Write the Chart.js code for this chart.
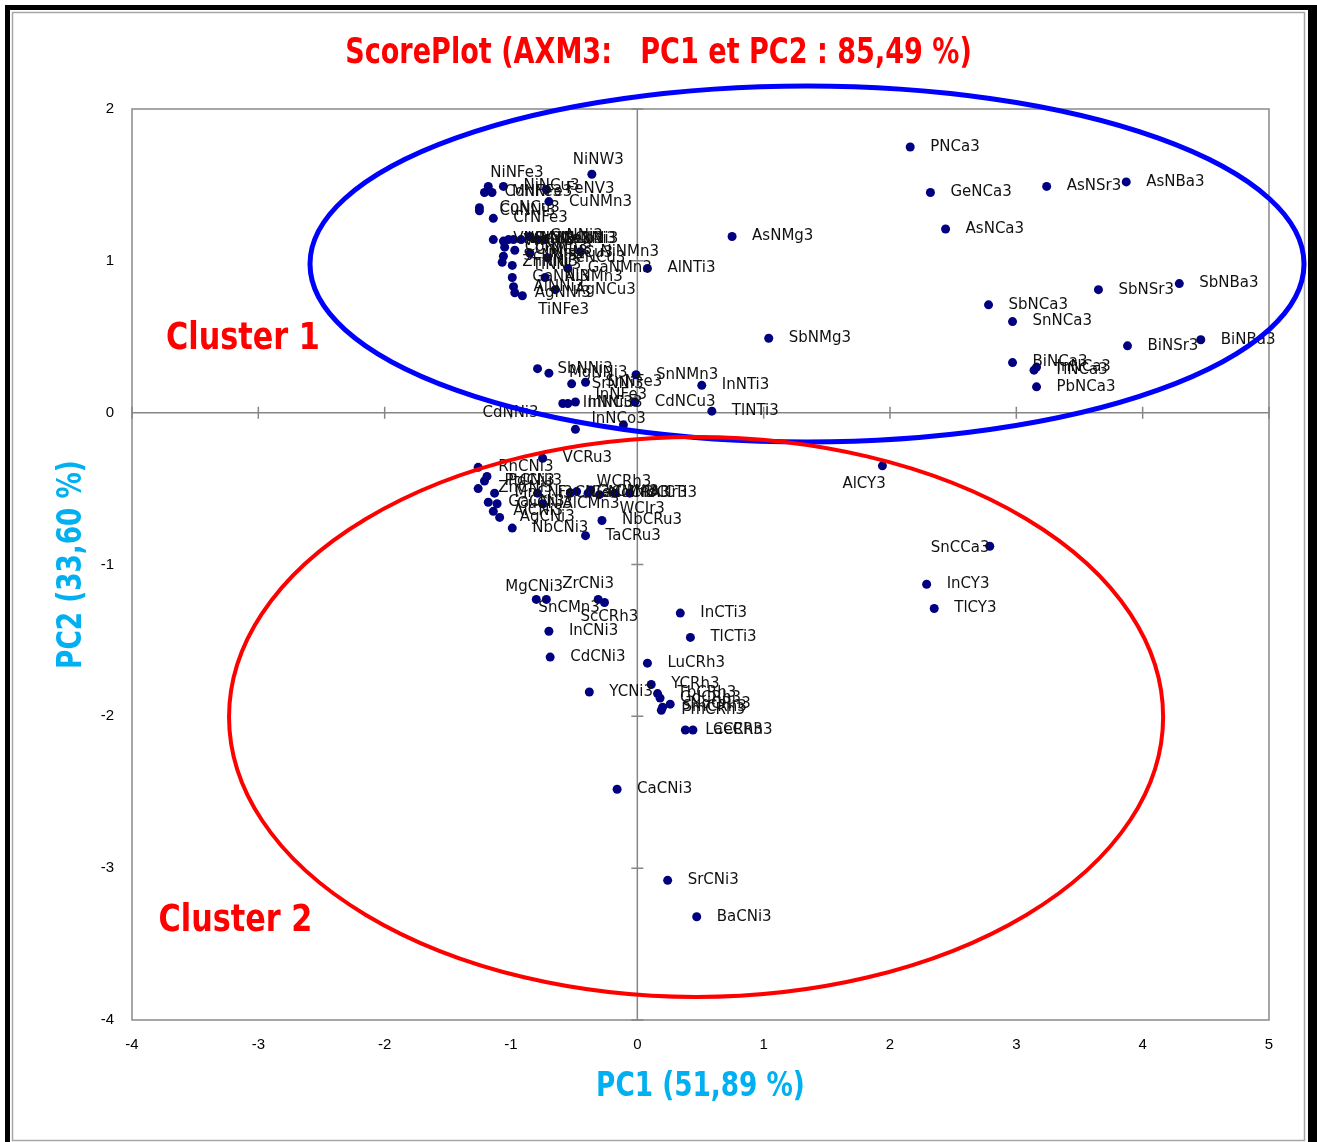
<!DOCTYPE html>
<html>
<head>
<meta charset="utf-8">
<title>ScorePlot AXM3</title>
<script src="https://cdn.jsdelivr.net/npm/chart.js@4.4.1/dist/chart.umd.min.js"></script>
<style>
  html, body { margin: 0; padding: 0; background: #ffffff; }
  #wrap { width: 1317px; height: 1142px; }
</style>
</head>
<body>
<div id="wrap"><canvas id="c" width="1317" height="1142"></canvas></div>
<script>
// Compound names and their scores on the first two principal components
const compounds = [
  'NiNW3','NiNFe3','NiNCu3','FeNV3','CuNMn3','CoNFe3','MnNFe3','CoNCu3','CuNNi3','CrNFe3',
  'VNFe3','VNCo3','VNNi3','CrNCo3','MnNCo3','CrNNi3','MnNNi3','FeNNi3','CoNMn3','CrNCu3',
  'ScNNi3','ZnNNi3','TiNNi3','MnNCu3','FeNCu3','NiNMn3','GaNMn3','GaNNi3','AlNMn3','AlNNi3',
  'AgNNi3','AgNCu3','TiNFe3',
  'PNCa3','GeNCa3','AsNSr3','AsNBa3','AsNCa3','AsNMg3','SbNCa3','SnNCa3','SbNSr3','SbNBa3',
  'BiNSr3','BiNBa3','BiNCa3','InNCa3','TlNCa3','PbNCa3','SbNMg3','AlNTi3','InNTi3','TlNTi3',
  'SnNMn3','CdNCu3',
  'SbNNi3','MgNNi3','SrNNi3','SnNFe3','InNFe3','InNNi3','InNCu3','InNCo3','CdNNi3',
  'VCRu3','RhCNi3','PdCNi3','PtCNi3','ZnCNi3','MnCNi3','FeCNi3','GaCNi3','CuCNi3','AlCMn3',
  'AlCNi3','AgCNi3','NbCNi3','GeCMn3','CoCMn3','MoCRh3','WCRh3','WCIr3','MoCIr3','AlCTi3',
  'NbCRu3','TaCRu3',
  'AlCY3','SnCCa3','InCY3','TlCY3','MgCNi3','ZrCNi3','ScCRh3','SnCMn3','InCNi3','CdCNi3',
  'InCTi3','TlCTi3','LuCRh3','YCNi3','YCRh3','TbCRh3','GdCRh3','SmCRh3','NdCRh3','PmCRh3',
  'LaCRh3','CeCRh3','CaCNi3','SrCNi3','BaCNi3'
];
const pc1 = [
  -0.36,-1.18,-1.06,-0.72,-0.70,-1.21,-1.15,-1.25,-1.25,-1.14,
  -1.14,-1.06,-1.02,-0.98,-0.92,-0.85,-0.79,-0.73,-1.05,-0.97,
  -1.06,-1.07,-0.99,-0.85,-0.71,-0.45,-0.55,-0.99,-0.73,-0.98,
  -0.97,-0.65,-0.91,
  2.16,2.32,3.24,3.87,2.44,0.75,2.78,2.97,3.65,4.29,
  3.88,4.46,2.97,3.16,3.14,3.16,1.04,0.08,0.51,0.59,
  -0.01,-0.02,
  -0.79,-0.70,-0.52,-0.41,-0.49,-0.59,-0.55,-0.49,-0.11,
  -0.75,-1.26,-1.19,-1.21,-1.26,-1.13,-0.79,-1.18,-1.11,-0.75,
  -1.14,-1.09,-0.99,-0.53,-0.48,-0.39,-0.37,-0.30,-0.18,-0.06,
  -0.28,-0.41,
  1.94,2.79,2.29,2.35,-0.80,-0.31,-0.26,-0.72,-0.70,-0.69,
  0.34,0.42,0.08,-0.38,0.11,0.16,0.18,0.20,0.26,0.19,
  0.38,0.44,-0.16,0.24,0.47
];
const pc2 = [
  1.57,1.49,1.49,1.47,1.39,1.45,1.45,1.35,1.33,1.28,
  1.14,1.13,1.14,1.14,1.14,1.16,1.14,1.14,1.09,1.07,
  1.03,0.99,0.97,1.05,1.02,1.06,0.95,0.89,0.89,0.83,
  0.79,0.81,0.77,
  1.75,1.45,1.49,1.52,1.21,1.16,0.71,0.60,0.81,0.85,
  0.44,0.48,0.33,0.30,0.28,0.17,0.49,0.95,0.18,0.01,
  0.25,0.07,
  0.29,0.26,0.19,0.20,0.07,0.06,0.06,-0.11,-0.08,
  -0.30,-0.36,-0.42,-0.45,-0.50,-0.53,-0.53,-0.59,-0.60,-0.60,
  -0.65,-0.69,-0.76,-0.53,-0.52,-0.53,-0.51,-0.54,-0.53,-0.53,
  -0.71,-0.81,
  -0.35,-0.88,-1.13,-1.29,-1.23,-1.23,-1.25,-1.23,-1.44,-1.61,
  -1.32,-1.48,-1.65,-1.84,-1.79,-1.85,-1.88,-1.94,-1.92,-1.96,
  -2.09,-2.09,-2.48,-3.08,-3.32
];

// Axis ranges and tick values
const xTicks = [-4, -3, -2, -1, 0, 1, 2, 3, 4, 5];
const yTicks = [-4, -3, -2, -1, 0, 1, 2];

// Texts
const chartTitle = 'ScorePlot (AXM3:   PC1 et PC2 : 85,49 %)';
const xTitle = 'PC1 (51,89 %)';
const yTitle = 'PC2 (33,60 %)';

// Cluster outlines (centre and semi-axes in score units) and their captions
const clusters = [
  { name: 'Cluster 1', cx: 1.343, cy: 0.979, rx: 3.934, ry: 1.172, color: '#0000ff', lw: 5, tx: -3.73, ty: 0.485 },
  { name: 'Cluster 2', cx: 0.465, cy: -2.004, rx: 3.697, ry: 1.844, color: '#ff0000', lw: 4, tx: -3.79, ty: -3.35 }
];

// Label offsets in pixels (left edge, vertical centre) for labels not placed to the right
const labelShift = {
  NiNW3: [-19, -14], NiNFe3: [2, -13], InNFe3: [20, -7], InNCo3: [16, -10], CdNNi3: [-141, -12],
  TiNFe3: [16, 14], AlCY3: [-40, 18], SnCCa3: [-59, 2], MgCNi3: [-31, -12], ZrCNi3: [-36, -15],
  ScCRh3: [-24, 15], SnCMn3: [-8, 9], WCRh3: [6, -8], WCIr3: [20, 14], PdCNi3: [21, 5]
};

const points = compounds.map((n, i) => ({ x: pc1[i], y: pc2[i], name: n }));

const boldFace = '"DejaVu Sans Condensed", "DejaVu Sans", sans-serif';

// draws a horizontally condensed bold caption
function caption(ctx, text, px, py, size, squeeze, align, color, angle) {
  ctx.save();
  ctx.translate(px, py);
  if (angle) ctx.rotate(angle);
  ctx.scale(squeeze, 1);
  ctx.font = 'bold ' + size + 'px ' + boldFace;
  ctx.fillStyle = color;
  ctx.textAlign = align;
  ctx.textBaseline = 'middle';
  ctx.fillText(text, 0, 0);
  ctx.restore();
}

const decor = {
  id: 'decor',
  beforeDraw(chart) {
    const { ctx, chartArea: a, scales: { x, y } } = chart;
    ctx.save();
    ctx.fillStyle = '#ffffff';
    ctx.fillRect(0, 0, chart.width, chart.height);
    // outer frame
    ctx.strokeStyle = '#000000';
    ctx.lineWidth = 5;
    ctx.strokeRect(7.5, 7.5, 1306, 1150);
    ctx.fillStyle = '#000000';
    ctx.fillRect(1308, 5, 9, 1137);
    ctx.strokeStyle = '#a6a6a6';
    ctx.lineWidth = 1.5;
    ctx.strokeRect(12.5, 12.5, 1292, 1128);
    // plot frame
    ctx.strokeStyle = '#898989';
    ctx.lineWidth = 1.5;
    ctx.strokeRect(a.left, a.top, a.right - a.left, a.bottom - a.top);
    // axes through the origin with cross tick marks
    const x0 = x.getPixelForValue(0), y0 = y.getPixelForValue(0);
    ctx.strokeStyle = '#868686';
    ctx.lineWidth = 1.5;
    ctx.beginPath();
    ctx.moveTo(x0, a.top); ctx.lineTo(x0, a.bottom);
    ctx.moveTo(a.left, y0); ctx.lineTo(a.right, y0);
    xTicks.forEach(v => { const px = x.getPixelForValue(v); ctx.moveTo(px, y0 - 6); ctx.lineTo(px, y0 + 6); });
    yTicks.forEach(v => { const py = y.getPixelForValue(v); ctx.moveTo(x0 - 6, py); ctx.lineTo(x0 + 6, py); });
    ctx.stroke();
    ctx.restore();
  },
  afterDatasetsDraw(chart) {
    const { ctx, chartArea: a, scales: { x, y } } = chart;
    ctx.save();
    // point labels
    ctx.font = '15px "DejaVu Sans", sans-serif';
    ctx.fillStyle = '#111111';
    ctx.textAlign = 'left';
    ctx.textBaseline = 'middle';
    points.forEach(p => {
      const s = labelShift[p.name] || [20, 0];
      ctx.fillText(p.name, x.getPixelForValue(p.x) + s[0], y.getPixelForValue(p.y) + s[1]);
    });
    // cluster outlines
    clusters.forEach(c => {
      const cx = x.getPixelForValue(c.cx), cy = y.getPixelForValue(c.cy);
      const rx = Math.abs(x.getPixelForValue(c.cx + c.rx) - cx);
      const ry = Math.abs(y.getPixelForValue(c.cy + c.ry) - cy);
      ctx.beginPath();
      ctx.ellipse(cx, cy, rx, ry, 0, 0, Math.PI * 2);
      ctx.strokeStyle = c.color;
      ctx.lineWidth = c.lw;
      ctx.stroke();
      caption(ctx, c.name, x.getPixelForValue(c.tx), y.getPixelForValue(c.ty), 37, 0.91, 'left', '#ff0000');
    });
    ctx.restore();
    // title and axis titles
    caption(ctx, chartTitle, chart.width / 2, 54, 35, 0.86, 'center', '#ff0000');
    caption(ctx, xTitle, (a.left + a.right) / 2, 1087, 34, 0.86, 'center', '#00b0f0');
    caption(ctx, yTitle, 72, (a.top + a.bottom) / 2, 34, 0.86, 'center', '#00b0f0', -Math.PI / 2);
  }
};

new Chart(document.getElementById('c'), {
  type: 'scatter',
  data: {
    datasets: [{
      data: points,
      pointRadius: 4.5,
      pointHoverRadius: 4.5,
      pointBackgroundColor: '#000080',
      pointBorderWidth: 0,
      borderWidth: 0
    }]
  },
  options: {
    responsive: false,
    animation: false,
    devicePixelRatio: 1,
    layout: { padding: { top: 109, right: 48, left: 0, bottom: 0 } },
    plugins: { legend: { display: false }, tooltip: { enabled: false }, title: { display: false } },
    scales: {
      x: {
        type: 'linear', min: -4, max: 5,
        afterFit: s => { s.height = 122; },
        afterBuildTicks: s => { s.ticks = xTicks.map(v => ({ value: v })); },
        grid: { display: false, drawTicks: false },
        border: { display: false },
        ticks: { padding: 16, color: '#000000', font: { family: '"Liberation Sans", sans-serif', size: 15 }, maxRotation: 0 }
      },
      y: {
        type: 'linear', min: -4, max: 2,
        afterFit: s => { s.width = 132; },
        afterBuildTicks: s => { s.ticks = yTicks.map(v => ({ value: v })); },
        grid: { display: false, drawTicks: false },
        border: { display: false },
        ticks: { padding: 18, color: '#000000', font: { family: '"Liberation Sans", sans-serif', size: 15 } }
      }
    }
  },
  plugins: [decor]
});
</script>
</body>
</html>
